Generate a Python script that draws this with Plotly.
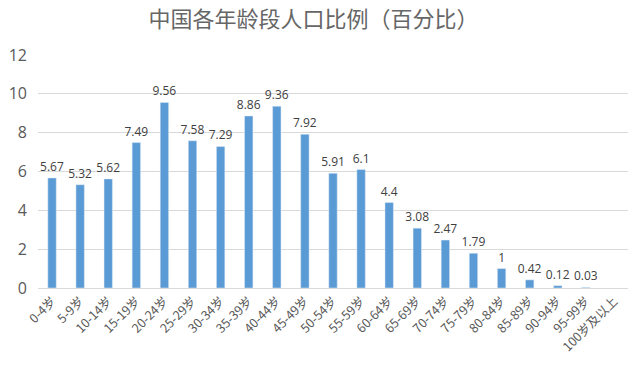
import plotly.graph_objects as go

categories = ["0-4岁", "5-9岁", "10-14岁", "15-19岁", "20-24岁", "25-29岁", "30-34岁",
              "35-39岁", "40-44岁", "45-49岁", "50-54岁", "55-59岁", "60-64岁", "65-69岁",
              "70-74岁", "75-79岁", "80-84岁", "85-89岁", "90-94岁", "95-99岁", "100岁及以上"]
values = [5.67, 5.32, 5.62, 7.49, 9.56, 7.58, 7.29, 8.86, 9.36, 7.92, 5.91, 6.1, 4.4,
          3.08, 2.47, 1.79, 1, 0.42, 0.12, 0.03, None]
labels = ["" if v is None else f"{v:g}" for v in values]

font = "Noto Sans CJK SC, Open Sans, sans-serif"

fig = go.Figure(go.Bar(
    x=categories, y=values, text=labels, textposition="outside",
    textfont=dict(size=12, color="#404040", family="Open Sans, sans-serif"),
    constraintext="none",
    marker=dict(color="#5B9BD5"), cliponaxis=False,
))

fig.update_layout(
    width=640, height=373,
    margin=dict(l=38, r=12, t=55, b=85),
    paper_bgcolor="white", plot_bgcolor="white",
    title=dict(text="中国各年龄段人口比例（百分比）", x=0.49, xanchor="center",
               y=0.948, yanchor="middle",
               font=dict(size=22, color="#666666", family=font)),
    bargap=0.7,
    showlegend=False,
    font=dict(family=font),
)
fig.update_yaxes(range=[0, 12], dtick=2, showgrid=True, gridcolor="#D9D9D9",
                 zeroline=False, tickfont=dict(size=16, color="#595959", family="Open Sans, sans-serif"),
                 ticks="", ticklen=0, automargin=False, ticklabelstandoff=10)
fig.update_xaxes(tickangle=-45, tickfont=dict(size=12.5, color="#595959"),
                 showline=True, linecolor="#D9D9D9", ticks="", automargin=False)

fig.write_html("out.html", post_script="document.body.style.margin='0';",
               config={"displayModeBar": False})
